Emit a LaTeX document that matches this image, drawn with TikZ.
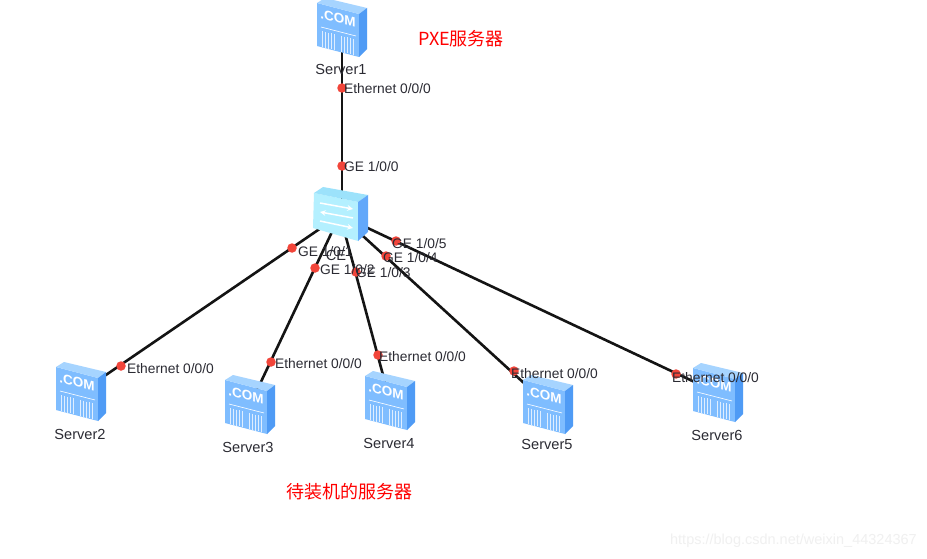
\documentclass[tikz,border=0pt]{standalone}
\usepackage{fontspec}
\setmainfont{Liberation Sans}
\newfontfamily\cjk{Noto Sans CJK SC}
\usetikzlibrary{backgrounds}
\definecolor{srvfront}{HTML}{7FBDFF}
\definecolor{srvtop}{HTML}{A6D4FF}
\definecolor{srvside}{HTML}{4F9BF5}
\definecolor{swfront}{HTML}{B4F0FF}
\definecolor{swtop}{HTML}{9CE2FB}
\definecolor{swside}{HTML}{62A8FA}
\definecolor{dotred}{HTML}{F2453A}
\definecolor{txt}{HTML}{2B2B33}
\tikzset{
  srvbox/.style={inner sep=0pt,minimum width=50pt,minimum height=58pt},
  netlink/.style={line width=2.6pt,draw=black!92},
  portdot/.style={circle,fill=dotred,inner sep=0pt,minimum size=9.5pt},
  portlabel/.style={anchor=west,inner sep=0pt,text=txt,font=\fontsize{13.8}{14}\selectfont},
  srvname/.style={inner sep=0pt,text=txt,font=\fontsize{14.6}{15}\selectfont},
  redtext/.style={inner sep=0pt,text=red,font=\cjk\fontsize{18}{18}\selectfont}
}
\newcommand{\srvicon}[1]{%
  \begin{scope}[shift={(#1.center)}]
    \fill[srvfront] (-25,-25) -- (17,-14) -- (17,29) -- (-25,18) -- cycle;
    \fill[srvtop] (-25,-25) -- (-17,-30) -- (25,-20) -- (17,-14) -- cycle;
    \fill[srvside] (17,-14) -- (25,-20) -- (25,21) -- (17,29) -- cycle;
    \node[text=white,inner sep=0pt,transform shape,cm={1,-0.25,0,1,(-4,-10)},font=\bfseries\fontsize{13.5}{14}\selectfont] at (0,0) {.COM};
    \draw[white,line width=0.6pt] (-21,-1) -- (14,8);
    \foreach \xx in {-20,-17,-14,-11,-8,-1,2,5,8,11}
      \draw[white!75!srvfront,line width=0.9pt] (\xx,{3+(\xx+20)*0.26}) -- (\xx,{19+(\xx+20)*0.26});
  \end{scope}}
\begin{document}
\begin{tikzpicture}[x=1pt,y=-1pt]
\useasboundingbox (0,0) rectangle (927,559);
% nodes
\node[srvbox] (s1) at (342,28) {};
\node[srvbox] (s2) at (81,392) {};
\node[srvbox] (s3) at (250,405) {};
\node[srvbox] (s4) at (390,401) {};
\node[srvbox] (s5) at (548,405) {};
\node[srvbox] (s6) at (718,393) {};
\node[inner sep=0pt,minimum width=55pt,minimum height=54pt] (sw) at (340,215) {};
\srvicon{s1}\srvicon{s2}\srvicon{s3}\srvicon{s4}\srvicon{s5}\srvicon{s6}
% switch
\begin{scope}[shift={(sw.center)}]
  \fill[swfront] (-26,-22) -- (18,-13) -- (18,26) -- (-27,13) -- cycle;
  \fill[swtop] (-26,-22) -- (-17,-28) -- (28,-20) -- (18,-13) -- cycle;
  \fill[swside] (18,-13) -- (28,-20) -- (28,17) -- (18,26) -- cycle;
  \draw[white,line width=1.5pt,->,>=stealth] (-20,-12) -- (13,-6);
  \draw[white,line width=1.5pt,<-,>=stealth] (-20,-3) -- (13,3);
  \draw[white,line width=1.5pt,->,>=stealth] (-20,6) -- (13,13);
\end{scope}
% connectors
\begin{scope}[on background layer]
  \fill[white] (0,0) rectangle (927,559);
  \draw[netlink] (s1.center) -- (s1.center |- sw.center);
  \draw[netlink] (sw.center) -- (s2.center);
  \draw[netlink] (sw.center) -- (s3.center);
  \draw[netlink] (sw.center) -- (s4.center);
  \draw[netlink] (sw.center) -- (s5.center);
  \draw[netlink] (sw.center) -- (s6.center);
\end{scope}
% port dots
\node[portdot] (d1a) at (342,88) {};
\node[portdot] (d1b) at (342,166) {};
\node[portdot] (d2a) at (292,248) {};
\node[portdot] (d2b) at (121,366) {};
\node[portdot] (d3a) at (315,268) {};
\node[portdot] (d3b) at (271,362) {};
\node[portdot] (d4a) at (356,272) {};
\node[portdot] (d4b) at (378,355) {};
\node[portdot] (d5a) at (386,256) {};
\node[portdot] (d5b) at (514,371) {};
\node[portdot] (d6a) at (396,241) {};
\node[portdot] (d6b) at (676,374) {};
% port labels
\node[portlabel] (l1a) at (344,89) {Ethernet 0/0/0};
\node[portlabel] (l1b) at (344,167) {GE 1/0/0};
\node[portlabel] (l2a) at (298,252) {GE 1/0/1};
\node[portlabel] (l2b) at (127,369) {Ethernet 0/0/0};
\node[portlabel] (l3a) at (320,270) {GE 1/0/2};
\node[portlabel] (l3b) at (275,364) {Ethernet 0/0/0};
\node[portlabel] (l4a) at (356,273) {GE 1/0/3};
\node[portlabel] (l4b) at (379,357) {Ethernet 0/0/0};
\node[portlabel] (l5a) at (383,258) {GE 1/0/4};
\node[portlabel] (l5b) at (511,374) {Ethernet 0/0/0};
\node[portlabel] (l6a) at (392,244) {GE 1/0/5};
\node[portlabel] (l6b) at (672,378) {Ethernet 0/0/0};
% names
\node[srvname] (n1) at (341,69) {Server1};
\node[srvname] (n2) at (80,434) {Server2};
\node[srvname] (n3) at (248,447) {Server3};
\node[srvname] (n4) at (389,443) {Server4};
\node[srvname] (n5) at (547,444) {Server5};
\node[srvname] (n6) at (717,435) {Server6};
\node[srvname] (nsw) at (336,255) {CE};
% notes
\node[redtext] (t1) at (461,39) {PXE服务器};
\node[redtext] (t2) at (349,492) {待装机的服务器};
\node[inner sep=0pt,text=black!6,anchor=east,font=\fontsize{14.5}{15}\selectfont] (wm) at (917,541) {https://blog.csdn.net/weixin\_44324367};
\end{tikzpicture}
\end{document}
